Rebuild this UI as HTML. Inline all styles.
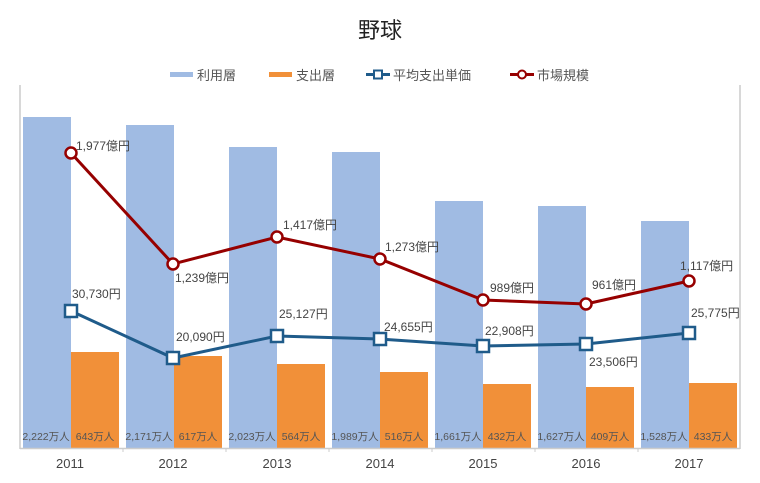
<!DOCTYPE html>
<html><head><meta charset="utf-8"><style>
body{margin:0;background:#fff}
svg{display:block;font-family:"Liberation Sans","Noto Sans CJK JP",sans-serif}
</style></head><body>
<svg width="760" height="483" viewBox="0 0 760 483">
<text x="380" y="38" font-size="22" text-anchor="middle" fill="#222">野球</text>
<g font-size="13" fill="#555">
<rect x="170" y="72" width="23" height="5" fill="#a0bbe3"/><text x="197" y="80">利用層</text>
<rect x="269" y="72" width="23" height="5" fill="#f19039"/><text x="296" y="80">支出層</text>
<line x1="366" y1="74.5" x2="390" y2="74.5" stroke="#1f5b8a" stroke-width="3"/><rect x="374" y="70.5" width="8" height="8" fill="#fff" stroke="#1f5b8a" stroke-width="2"/><text x="393" y="80">平均支出単価</text>
<line x1="510" y1="74.5" x2="534" y2="74.5" stroke="#960000" stroke-width="3"/><circle cx="522" cy="74.5" r="4" fill="#fff" stroke="#960000" stroke-width="2"/><text x="537" y="80">市場規模</text>
</g>
<line x1="20" y1="85" x2="20" y2="449" stroke="#ccc" stroke-width="1.5"/>
<line x1="740" y1="85" x2="740" y2="449" stroke="#ccc" stroke-width="1.5"/>
<g fill="#a0bbe3">
<rect x="23" y="117" width="48" height="331"/>
<rect x="126" y="125" width="48" height="323"/>
<rect x="229" y="147" width="48" height="301"/>
<rect x="332" y="152" width="48" height="296"/>
<rect x="435" y="201" width="48" height="247"/>
<rect x="538" y="206" width="48" height="242"/>
<rect x="641" y="221" width="48" height="227"/>
</g>
<g fill="#f19039">
<rect x="71" y="352" width="48" height="96"/>
<rect x="174" y="356" width="48" height="92"/>
<rect x="277" y="364" width="48" height="84"/>
<rect x="380" y="372" width="48" height="76"/>
<rect x="483" y="384" width="48" height="64"/>
<rect x="586" y="387" width="48" height="61"/>
<rect x="689" y="383" width="48" height="65"/>
</g>
<line x1="20" y1="448.5" x2="740" y2="448.5" stroke="#ccc" stroke-width="1.5"/>
<g stroke="#ccc"><line x1="123" y1="448" x2="123" y2="452"/><line x1="226" y1="448" x2="226" y2="452"/><line x1="329" y1="448" x2="329" y2="452"/><line x1="432" y1="448" x2="432" y2="452"/><line x1="535" y1="448" x2="535" y2="452"/><line x1="638" y1="448" x2="638" y2="452"/></g>
<g font-size="10.5" fill="#555" text-anchor="middle">
<text x="46" y="440">2,222万人</text><text x="95" y="440">643万人</text>
<text x="149" y="440">2,171万人</text><text x="198" y="440">617万人</text>
<text x="252" y="440">2,023万人</text><text x="301" y="440">564万人</text>
<text x="355" y="440">1,989万人</text><text x="404" y="440">516万人</text>
<text x="458" y="440">1,661万人</text><text x="507" y="440">432万人</text>
<text x="561" y="440">1,627万人</text><text x="610" y="440">409万人</text>
<text x="664" y="440">1,528万人</text><text x="713" y="440">433万人</text>
</g>
<g font-size="13" fill="#444" text-anchor="middle">
<text x="70" y="468">2011</text><text x="173" y="468">2012</text><text x="277" y="468">2013</text><text x="380" y="468">2014</text><text x="483" y="468">2015</text><text x="586" y="468">2016</text><text x="689" y="468">2017</text>
</g>
<polyline points="71,311 173,358 277,336 380,339 483,346 586,344 689,333" fill="none" stroke="#1f5b8a" stroke-width="3"/>
<g fill="#fff" stroke="#1f5b8a" stroke-width="2.5">
<rect x="65" y="305" width="12" height="12"/><rect x="167" y="352" width="12" height="12"/><rect x="271" y="330" width="12" height="12"/><rect x="374" y="333" width="12" height="12"/><rect x="477" y="340" width="12" height="12"/><rect x="580" y="338" width="12" height="12"/><rect x="683" y="327" width="12" height="12"/>
</g>
<polyline points="71,153 173,264 277,237 380,259 483,300 586,304 689,281" fill="none" stroke="#960000" stroke-width="3"/>
<g fill="#fff" stroke="#960000" stroke-width="2.5">
<circle cx="71" cy="153" r="5.5"/><circle cx="173" cy="264" r="5.5"/><circle cx="277" cy="237" r="5.5"/><circle cx="380" cy="259" r="5.5"/><circle cx="483" cy="300" r="5.5"/><circle cx="586" cy="304" r="5.5"/><circle cx="689" cy="281" r="5.5"/>
</g>
<g font-size="12" fill="#444">
<text x="76" y="150">1,977億円</text>
<text x="175" y="282">1,239億円</text>
<text x="283" y="229">1,417億円</text>
<text x="385" y="251">1,273億円</text>
<text x="490" y="292">989億円</text>
<text x="592" y="289">961億円</text>
<text x="680" y="270">1,117億円</text>
<text x="72" y="298">30,730円</text>
<text x="176" y="341">20,090円</text>
<text x="279" y="318">25,127円</text>
<text x="384" y="331">24,655円</text>
<text x="485" y="335">22,908円</text>
<text x="589" y="366">23,506円</text>
<text x="691" y="317">25,775円</text>
</g>
</svg>
</body></html>
